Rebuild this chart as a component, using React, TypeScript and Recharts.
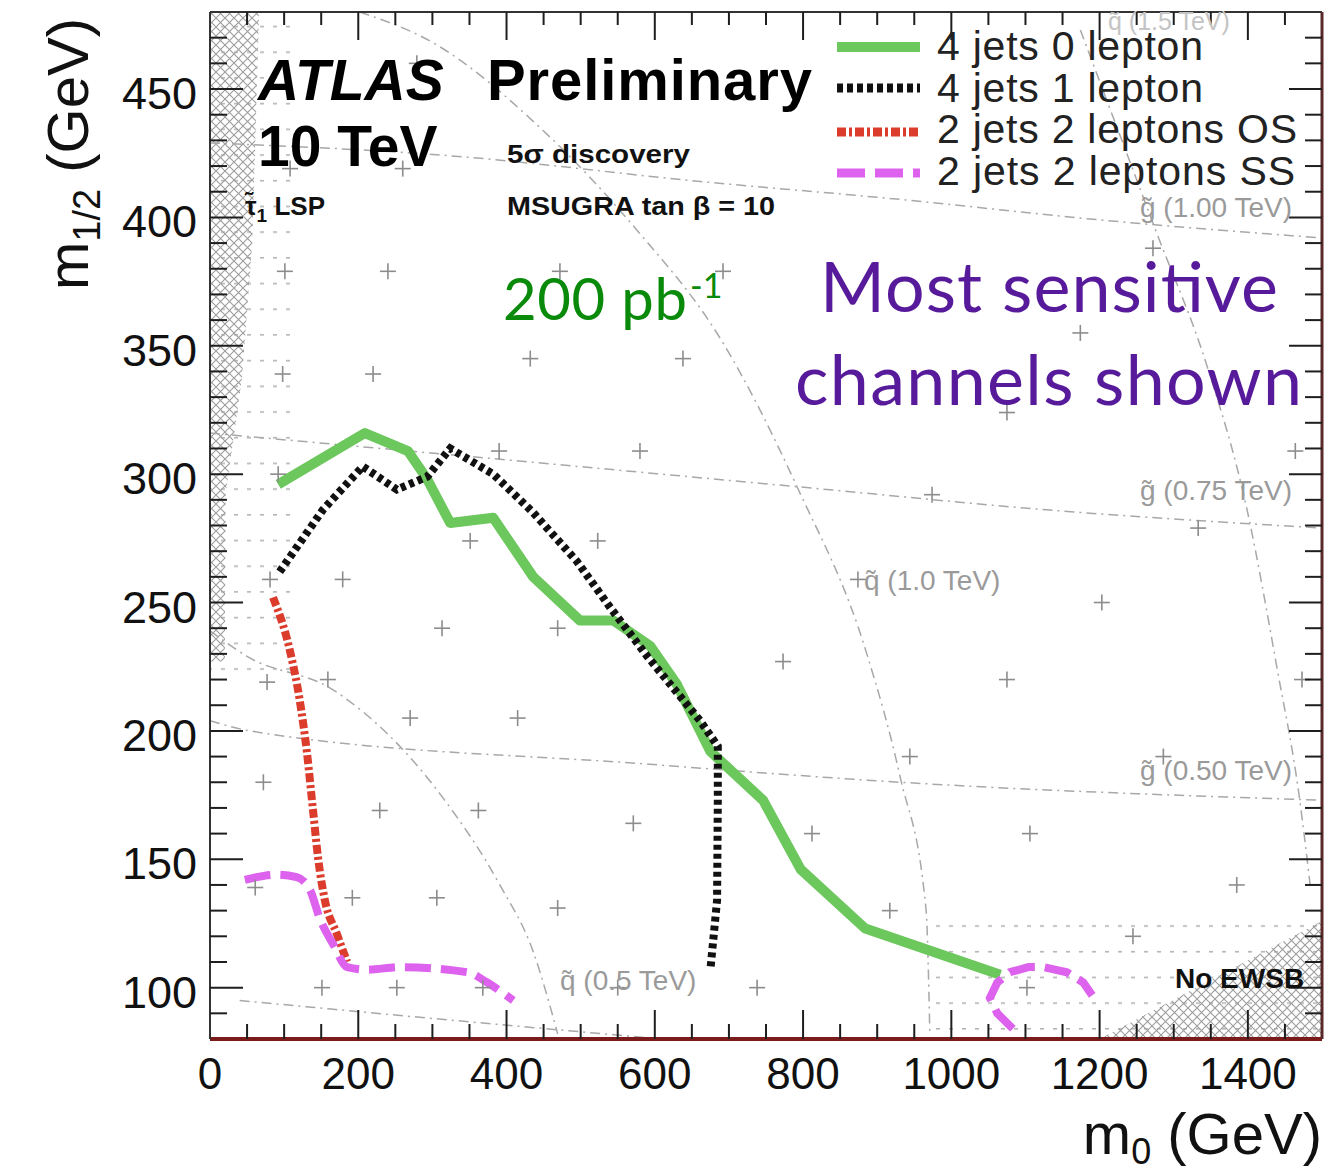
import React from "react";
import { ComposedChart, Line, Area, Scatter, XAxis, YAxis } from "recharts";

type Pt = [number, number];
type Band = [number, number, number];

// 5 sigma discovery reach, 200 pb-1, (m0, m1/2) in GeV
const jets4Lep0: Pt[] = [
  [92, 296], [209, 316], [267, 309], [293, 298], [324, 281], [382, 283],
  [436, 260], [499, 243], [544, 243], [594, 233], [630, 218], [675, 192],
  [746, 173], [797, 146], [884, 123], [1066, 105],
];
const jets4Lep1: Pt[] = [
  [94, 262], [152, 286], [206, 303], [252, 294], [293, 299], [324, 310],
  [382, 300], [436, 285], [495, 266], [540, 248], [590, 229], [661, 204],
  [685, 194], [685, 173], [684, 134], [675, 107],
];
const jets2Lep2OS: Pt[] = [
  [85, 252], [108, 231], [121, 212], [131, 191], [139, 169], [146, 150],
  [155, 134], [171, 121], [185, 110],
];
const jets2Lep2SS: Pt[] = [
  [47, 142], [90, 144], [117, 143], [135, 138], [148, 127], [166, 117],
  [185, 108], [212, 107], [256, 108], [347, 106], [374, 102], [409, 95],
];
const jets2Lep2SSb: Pt[] = [
  [1083, 84], [1062, 90], [1052, 96], [1062, 102], [1079, 106], [1104, 108],
  [1124, 108], [1156, 106], [1178, 102], [1190, 97],
];

// iso-mass lines (gluino / squark)
const gluino025: Pt[] = [[40, 95], [300, 88], [590, 80.5]];
const gluino050: Pt[] = [[0, 204], [54, 200], [593, 187], [931, 180], [1500, 173]];
const gluino075: Pt[] = [[0, 316], [459, 304], [796, 295], [1133, 286], [1500, 279]];
const gluino100: Pt[] = [[0, 429], [324, 424], [661, 414], [931, 407], [1201, 399], [1500, 392]];
const squark050: Pt[] = [[0, 239], [50, 229], [166, 216], [314, 174], [391, 140], [436, 114], [469, 82]];
const squark100: Pt[] = [
  [202, 480], [301, 468], [445, 435], [576, 395], [688, 353], [792, 295],
  [886, 230], [931, 182], [966, 130], [971, 82],
];
const squark150: Pt[] = [[1174, 473], [1277, 394], [1345, 342], [1399, 286], [1439, 225], [1470, 173], [1484, 140]];

// scan points
const scanPoints: Pt[] = [
  [101, 379], [240, 379], [472, 379], [692, 379], [1272, 388], [98, 339], [220, 339],
  [432, 345], [638, 345], [1174, 355], [1075, 324], [580, 309], [390, 309], [92, 300],
  [1464, 309], [351, 274], [523, 274], [974, 292], [1333, 279], [81, 259], [179, 259],
  [874, 259], [313, 240], [469, 240], [1203, 250], [77, 219], [159, 220], [270, 205],
  [415, 205], [773, 227], [1075, 220], [1473, 220], [72, 180], [944, 190], [1286, 190],
  [229, 169], [362, 169], [571, 164], [812, 160], [1106, 160], [61, 139], [192, 135],
  [306, 135], [469, 131], [917, 130], [1385, 140], [1245, 120], [151, 100], [252, 100],
  [368, 100], [550, 100], [738, 100], [1102, 100], [108, 419], [260, 419], [279, 460],
];

// excluded regions: [m0, low, high]
const stauLspHatch: Band[] = [[0, 227, 480], [20, 227, 480], [21, 292, 480], [43, 337, 480], [57, 390, 480], [66, 478, 480]];
const stauLspDots: Band[] = [[0, 220, 480], [108, 220, 480]];
const noEwsbHatch: Band[] = [[1200, 80, 80], [1500, 80, 126]];
const noEwsbDots: Band[] = [[967, 80, 125], [1500, 80, 125]];

const xTicks = [0, 50, 100, 150, 200, 250, 300, 350, 400, 450, 500, 550, 600, 650, 700, 750,
  800, 850, 900, 950, 1000, 1050, 1100, 1150, 1200, 1250, 1300, 1350, 1400, 1450];
const yTicks = [90, 100, 110, 120, 130, 140, 150, 160, 170, 180, 190, 200, 210, 220, 230, 240,
  250, 260, 270, 280, 290, 300, 310, 320, 330, 340, 350, 360, 370, 380, 390, 400, 410, 420,
  430, 440, 450, 460, 470];

const FONT = '"Liberation Sans", Arial, Helvetica, sans-serif';
const HUMAN = 'Lato, "Open Sans", sans-serif';
const TICK = "#1e1e1e";

const GREEN = "#6cc75c";
const BLACK = "#111111";
const RED = "#dc3c2c";
const MAGENTA = "#dd62ee";
const GRAY = "#a8a8a8";

const toXY = (pts: Pt[]) => pts.map(([x, y]) => ({ x, y }));
const toBand = (pts: Band[]) => pts.map(([x, lo, hi]) => ({ x, band: [lo, hi] }));

function PlusMark(props: any) {
  const { cx, cy } = props;
  if (cx == null || cy == null) return null;
  return (
    <g stroke="#8c8c8c" strokeWidth={1.6}>
      <line x1={cx - 8} x2={cx + 8} y1={cy} y2={cy} />
      <line x1={cx} x2={cx} y1={cy - 8} y2={cy + 8} />
    </g>
  );
}

function BottomTick({ x, y, payload }: any) {
  const v = payload.value as number;
  const major = v % 200 === 0;
  return (
    <g>
      {v > 0 && <line x1={x} x2={x} y1={y} y2={y - (major ? 29 : 15)} stroke={TICK} strokeWidth={2} />}
      {major && (
        <text x={x} y={y + 50} textAnchor="middle" fontFamily={FONT} fontSize={44} fill="#111">
          {v}
        </text>
      )}
    </g>
  );
}

function TopTick({ x, y, payload }: any) {
  const v = payload.value as number;
  if (v <= 0) return null;
  const major = v % 200 === 0;
  return <line x1={x} x2={x} y1={y} y2={y + (major ? 28 : 13)} stroke={TICK} strokeWidth={2} />;
}

function LeftTick({ x, y, payload }: any) {
  const v = payload.value as number;
  const major = v % 50 === 0;
  return (
    <g>
      <line x1={x} x2={x + (major ? 33 : 17)} y1={y} y2={y} stroke={TICK} strokeWidth={2} />
      {major && (
        <text x={x - 13} y={y + 20} textAnchor="end" fontFamily={FONT} fontSize={45} fill="#111">
          {v}
        </text>
      )}
    </g>
  );
}

function RightTick({ x, y, payload }: any) {
  const v = payload.value as number;
  const major = v % 50 === 0;
  return <line x1={x} x2={x - (major ? 33 : 17)} y1={y} y2={y} stroke={TICK} strokeWidth={2} />;
}

const grayLine = (pts: Pt[], key: string) => (
  <Line
    key={key}
    data={toXY(pts)}
    dataKey="y"
    type="monotone"
    stroke={GRAY}
    strokeWidth={1.5}
    strokeDasharray="10 5 2 5"
    dot={false}
    legendType="none"
    isAnimationActive={false}
  />
);

function Annotations() {
  const gray = { fontFamily: FONT, fontSize: 28, fill: "#9a9a9a" };
  const legend = { fontFamily: FONT, fontSize: 41, fill: "#222" };
  return (
    <svg
      width={1328}
      height={1176}
      style={{ position: "absolute", left: 0, top: 0, pointerEvents: "none" }}
    >
      {/* iso-mass labels */}
      <text x={1108} y={30} {...gray} fontSize={25} fill="#c4c4c4">q̃ (1.5 TeV)</text>
      <text x={1140} y={217} {...gray}>g̃ (1.00 TeV)</text>
      <text x={1140} y={500} {...gray}>g̃ (0.75 TeV)</text>
      <text x={1140} y={780} {...gray}>g̃ (0.50 TeV)</text>
      <text x={864} y={590} {...gray}>q̃ (1.0 TeV)</text>
      <text x={560} y={990} {...gray}>q̃ (0.5 TeV)</text>

      {/* titles */}
      <text x={258} y={100} fontFamily={FONT} fontSize={57} fontWeight="bold" fontStyle="italic" fill="#000">
        ATLAS
      </text>
      <text x={487} y={100} fontFamily={FONT} fontSize={58} fontWeight="bold" fill="#000" textLength={325}>
        Preliminary
      </text>
      <text x={258} y={166} fontFamily={FONT} fontSize={57} fontWeight="bold" fill="#000">
        10 TeV
      </text>
      <text x={507} y={163} fontFamily={FONT} fontSize={26} fontWeight="bold" fill="#111" textLength={183} lengthAdjust="spacingAndGlyphs">
        5σ discovery
      </text>
      <text x={507} y={215} fontFamily={FONT} fontSize={26} fontWeight="bold" fill="#111" textLength={268} lengthAdjust="spacingAndGlyphs">
        MSUGRA tan β = 10
      </text>
      <text x={245} y={215} fontFamily={FONT} fontSize={26} fontWeight="bold" fill="#111">
        τ̃<tspan fontSize={19} dy={7}>1</tspan>
        <tspan dy={-7}> LSP</tspan>
      </text>
      <text x={1175} y={988} fontFamily={FONT} fontSize={28} fontWeight="bold" fill="#111">
        No EWSB
      </text>

      <text x={503} y={320} fontFamily={HUMAN} fontSize={58} fill="#0a8a0a" textLength={184}>
        200 pb
      </text>
      <text x={690} y={298} fontFamily={HUMAN} fontSize={34} fill="#0a8a0a">
        -1
      </text>
      <text x={820} y={312} fontFamily={HUMAN} fontSize={70} fill="#561a9a" textLength={458}>
        Most sensitive
      </text>
      <text x={795} y={405} fontFamily={HUMAN} fontSize={70} fill="#561a9a" textLength={507}>
        channels shown
      </text>

      {/* legend */}
      <line x1={837} x2={920} y1={47} y2={47} stroke={GREEN} strokeWidth={10} />
      <line x1={837} x2={920} y1={88} y2={88} stroke={BLACK} strokeWidth={9} strokeDasharray="6 4" />
      <line x1={837} x2={920} y1={132} y2={132} stroke={RED} strokeWidth={9} strokeDasharray="9 3 3 3" />
      <line x1={837} x2={920} y1={173} y2={173} stroke={MAGENTA} strokeWidth={9} strokeDasharray="28 10" />
      <text x={937} y={60} {...legend} textLength={266}>4 jets 0 lepton</text>
      <text x={937} y={102} {...legend} textLength={266}>4 jets 1 lepton</text>
      <text x={937} y={143} {...legend} textLength={360}>2 jets 2 leptons OS</text>
      <text x={937} y={185} {...legend} textLength={358}>2 jets 2 leptons SS</text>

      {/* axis titles */}
      <text x={1322} y={1154} textAnchor="end" fontFamily={FONT} fontSize={58} fill="#111">
        m<tspan fontSize={36} dy={10}>0</tspan>
        <tspan dy={-10}> (GeV)</tspan>
      </text>
      <text transform="translate(88,290) rotate(-90)" fontFamily={FONT} fontSize={58} fill="#111">
        m<tspan fontSize={38} dy={12}>1/2</tspan>
        <tspan dy={-12}> (GeV)</tspan>
      </text>
    </svg>
  );
}

export default function App() {
  return (
    <div style={{ position: "absolute", left: 0, top: 0, width: 1328, height: 1176, background: "#fff" }}>
      <svg width={0} height={0} style={{ position: "absolute" }}>
        <defs>
          <pattern id="xhatch" width={9} height={9} patternUnits="userSpaceOnUse">
            <path d="M0,0 L9,9 M9,0 L0,9" stroke="#9c9c9c" strokeWidth={1.1} fill="none" />
          </pattern>
          <pattern id="dotfill" width={13} height={25.7} patternUnits="userSpaceOnUse">
            <rect x={0} y={0} width={4} height={1.6} fill="#b5b5b5" />
          </pattern>
        </defs>
      </svg>
      <ComposedChart width={1328} height={1176} margin={{ top: 0, right: 0, bottom: 0, left: 0 }}>
        <XAxis
          dataKey="x"
          type="number"
          domain={[0, 1500]}
          allowDataOverflow
          ticks={xTicks}
          interval={0}
          tickSize={0}
          tickMargin={0}
          tick={<BottomTick />}
          height={137}
          axisLine={{ stroke: "#7b1c1c", strokeWidth: 4 }}
        />
        <XAxis
          xAxisId="top"
          orientation="top"
          dataKey="x"
          type="number"
          domain={[0, 1500]}
          allowDataOverflow
          ticks={xTicks}
          interval={0}
          tickSize={0}
          tickMargin={0}
          tick={<TopTick />}
          height={12}
          axisLine={{ stroke: "#333", strokeWidth: 2 }}
        />
        <YAxis
          type="number"
          domain={[80, 480]}
          allowDataOverflow
          ticks={yTicks}
          interval={0}
          tickSize={0}
          tickMargin={0}
          tick={<LeftTick />}
          width={210}
          axisLine={{ stroke: "#333", strokeWidth: 2 }}
        />
        <YAxis
          yAxisId="right"
          orientation="right"
          type="number"
          domain={[80, 480]}
          allowDataOverflow
          ticks={yTicks}
          interval={0}
          tickSize={0}
          tickMargin={0}
          tick={<RightTick />}
          width={6}
          axisLine={{ stroke: "#5a2a2a", strokeWidth: 3 }}
        />

        <Area data={toBand(stauLspDots)} dataKey="band" type="linear" stroke="none" fill="url(#dotfill)" fillOpacity={1} isAnimationActive={false} />
        <Area data={toBand(stauLspHatch)} dataKey="band" type="linear" stroke="none" fill="url(#xhatch)" fillOpacity={1} isAnimationActive={false} />
        <Area data={toBand(noEwsbDots)} dataKey="band" type="linear" stroke="none" fill="url(#dotfill)" fillOpacity={1} isAnimationActive={false} />
        <Area data={toBand(noEwsbHatch)} dataKey="band" type="linear" stroke="none" fill="url(#xhatch)" fillOpacity={1} isAnimationActive={false} />

        {grayLine(gluino025, "g025")}
        {grayLine(gluino050, "g050")}
        {grayLine(gluino075, "g075")}
        {grayLine(gluino100, "g100")}
        {grayLine(squark050, "s050")}
        {grayLine(squark100, "s100")}
        {grayLine(squark150, "s150")}

        <Scatter data={toXY(scanPoints)} dataKey="y" shape={<PlusMark />} isAnimationActive={false} legendType="none" />

        <Line data={toXY(jets4Lep0)} dataKey="y" name="4 jets 0 lepton" type="linear" stroke={GREEN} strokeWidth={10} strokeLinejoin="round" dot={false} isAnimationActive={false} />
        <Line data={toXY(jets4Lep1)} dataKey="y" name="4 jets 1 lepton" type="linear" stroke={BLACK} strokeWidth={8} strokeDasharray="5 4" dot={false} isAnimationActive={false} />
        <Line data={toXY(jets2Lep2OS)} dataKey="y" name="2 jets 2 leptons OS" type="monotone" stroke={RED} strokeWidth={8} strokeDasharray="9 3 3 3" dot={false} isAnimationActive={false} />
        <Line data={toXY(jets2Lep2SS)} dataKey="y" name="2 jets 2 leptons SS" type="monotone" stroke={MAGENTA} strokeWidth={8} strokeDasharray="26 10" dot={false} isAnimationActive={false} />
        <Line data={toXY(jets2Lep2SSb)} dataKey="y" name="2 jets 2 leptons SS " type="linear" stroke={MAGENTA} strokeWidth={8} strokeDasharray="26 10" dot={false} legendType="none" isAnimationActive={false} />
      </ComposedChart>
      <Annotations />
    </div>
  );
}
